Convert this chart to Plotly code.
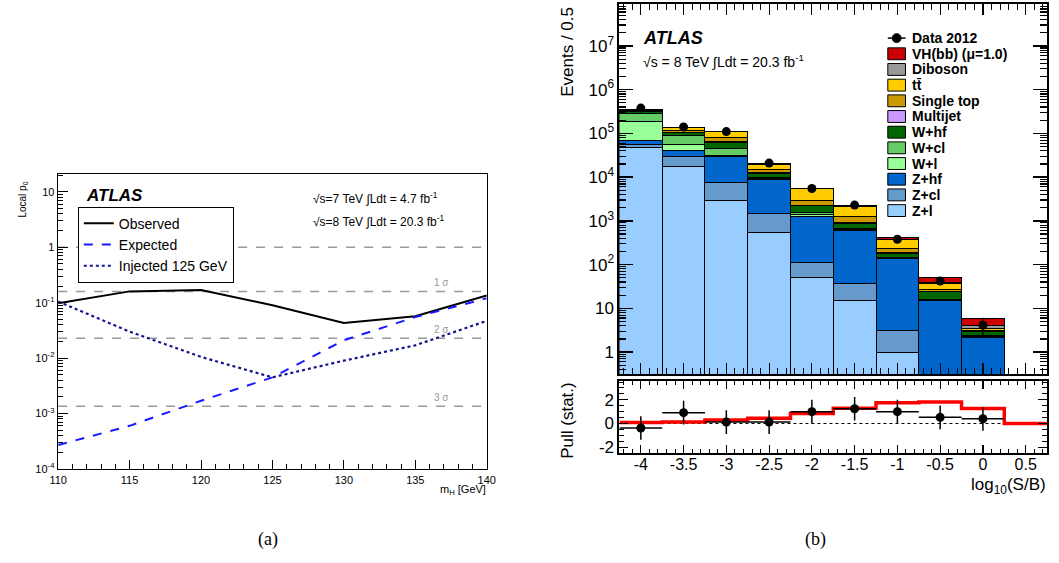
import math
import plotly.graph_objects as go

# ---------------- Panel (a): local p0 vs mH ----------------
mass = [110, 115, 120, 125, 130, 135, 140]
p0_observed = [0.098, 0.16, 0.17, 0.09, 0.043, 0.057, 0.135]
p0_expected = [2.7e-4, 6.0e-4, 1.7e-3, 4.5e-3, 0.021, 0.055, 0.12]
p0_injected = [0.105, 0.030, 0.0105, 0.0045, 0.0090, 0.017, 0.047]
sigma_levels = [1.0, 0.1587, 0.02275, 0.00135]
sigma_labels = ["", "1 σ", "2 σ", "3 σ"]

# ---------------- Panel (b): log10(S/B) stacked histogram ----------------
bin_centers = [-4.0, -3.5, -3.0, -2.5, -2.0, -1.5, -1.0, -0.5, 0.0]
z_l = [4.8e4, 1.77e4, 3.0e3, 530, 50, 15, 1.0, 0, 0]
z_cl = [9e3, 1.2e4, 4.4e3, 970, 60, 22, 2.1, 0, 0]
z_hf = [1.3e4, 1.2e4, 2.16e4, 7.3e3, 1130, 580, 132, 14.8, 2.2]
w_l = [1.2e5, 1.5e4, 3e3, 300, 130, 20, 5, 0.5, 0.05]
w_cl = [9e4, 3.5e4, 1.4e4, 900, 210, 40, 8, 1.0, 0.1]
w_hf = [4e4, 1.3e4, 1.6e4, 2.4e3, 620, 210, 34, 8, 0.55]
multijet = [1e3, 2e3, 2e3, 300, 50, 10, 3, 0.2, 0.0]
single_top = [2e4, 7e3, 1.6e4, 2.1e3, 750, 340, 45, 3, 0.3]
ttbar = [1.5e4, 2.4e4, 2.8e4, 5e3, 2.4e3, 950, 145, 10, 0.3]
diboson = [2e3, 1.5e3, 2e3, 500, 100, 40, 10, 2, 0.5]
vh_bb = [36, 44, 60, 50, 40, 40, 30, 12, 1.8]
data_2012 = [3.8e5, 1.4e5, 1.1e5, 2.1e4, 5.5e3, 2.3e3, 380, 42, 4.1]
data_err = [620, 370, 330, 145, 74, 48, 19, 6.5, 2.0]

pull_values = [-0.38, 0.92, 0.12, 0.12, 1.0, 1.25, 1.0, 0.52, 0.40]
pull_err = [1, 1, 1, 1, 1, 1, 1, 1, 1]
bin_half_width = [0.25] * 9
signal_edges = [-4.25, -3.75, -3.25, -2.75, -2.25, -1.75, -1.25, -0.75, -0.25, 0.25, 0.75]
signal_pull = [0.08, 0.13, 0.30, 0.45, 0.85, 1.30, 1.75, 1.82, 1.27, 0.0]

xb_ticks = [-4, -3.5, -3, -2.5, -2, -1.5, -1, -0.5, 0, 0.5]

components = [
    ("Z+l", z_l, "#99ccff"),
    ("Z+cl", z_cl, "#6699cc"),
    ("Z+hf", z_hf, "#0066cc"),
    ("W+l", w_l, "#99ff99"),
    ("W+cl", w_cl, "#66cc66"),
    ("W+hf", w_hf, "#006600"),
    ("Multijet", multijet, "#cc99ff"),
    ("Single top", single_top, "#cc9900"),
    ("tt\u0304", ttbar, "#ffcc00"),
    ("Diboson", diboson, "#999999"),
    ("VH(bb) (\u03bc=1.0)", vh_bb, "#cc0000"),
]

W, H = 1059, 563


def fx(px):
    return px / W


def fy(py):
    return 1 - py / H


FONT = "Liberation Sans, Arial, Helvetica, sans-serif"
SERIF = "Liberation Serif, Times New Roman, serif"

fig = go.Figure()

# ---- panel (a) traces
for lev in sigma_levels:
    fig.add_trace(go.Scatter(x=[mass[0], mass[-1]], y=[lev, lev], mode="lines",
                             line=dict(color="#999999", width=1.5, dash="dash"),
                             showlegend=False, hoverinfo="skip", xaxis="x", yaxis="y"))
fig.add_trace(go.Scatter(x=mass, y=p0_observed, mode="lines", name="Observed",
                         line=dict(color="black", width=2), xaxis="x", yaxis="y", legend="legend"))
fig.add_trace(go.Scatter(x=mass, y=p0_expected, mode="lines", name="Expected",
                         line=dict(color="#1a1aff", width=2, dash="dash"), xaxis="x", yaxis="y", legend="legend"))
fig.add_trace(go.Scatter(x=mass, y=p0_injected, mode="lines", name="Injected 125 GeV",
                         line=dict(color="#14148c", width=2.2, dash="dot"), xaxis="x", yaxis="y", legend="legend"))

# ---- panel (b) stacked histogram
for name, vals, col in components:
    fig.add_trace(go.Bar(x=bin_centers, y=vals, width=0.5, name=name,
                         marker=dict(color=col, line=dict(color="black", width=1)),
                         showlegend=False, xaxis="x2", yaxis="y2"))
fig.add_trace(go.Scatter(x=bin_centers, y=data_2012, mode="markers", name="Data 2012",
                         marker=dict(color="black", size=9),
                         error_y=dict(type="data", array=data_err, color="black", thickness=1.5, width=0),
                         showlegend=False, xaxis="x2", yaxis="y2"))

# ---- pull panel
fig.add_trace(go.Scatter(x=[signal_edges[0], signal_edges[-1]], y=[0, 0], mode="lines",
                         line=dict(color="black", width=1.2, dash="dot"),
                         showlegend=False, hoverinfo="skip", xaxis="x3", yaxis="y3"))
fig.add_trace(go.Scatter(x=signal_edges, y=signal_pull + [signal_pull[-1]], mode="lines",
                         line=dict(color="#ff0000", width=3.5, shape="hv"),
                         showlegend=False, xaxis="x3", yaxis="y3"))
fig.add_trace(go.Scatter(x=bin_centers, y=pull_values, mode="markers",
                         marker=dict(color="black", size=9),
                         error_y=dict(type="data", array=pull_err, color="black", thickness=1.5, width=0),
                         error_x=dict(type="data", array=bin_half_width, color="black", thickness=1.5, width=0),
                         showlegend=False, xaxis="x3", yaxis="y3"))


def log_minor(lo, hi):
    return [m * 10.0 ** e for e in range(lo, hi) for m in range(2, 10)]


def sup(e):
    if e == 0:
        return "1"
    if e == 1:
        return "10"
    return "10<sup>%d</sup>" % e


axis_common = dict(showgrid=False, zeroline=False, showline=True, linecolor="black",
                   ticks="inside", tickcolor="black")

left_y_exps = [-4, -3, -2, -1, 0, 1]
right_y_exps = [0, 1, 2, 3, 4, 5, 6, 7]

fig.update_layout(
    width=W, height=H, margin=dict(l=0, r=0, t=0, b=0),
    paper_bgcolor="white", plot_bgcolor="white",
    font=dict(family=FONT, color="black"),
    barmode="stack", bargap=0,
    xaxis=dict(domain=[fx(50), fx(486)], range=[110, 140], anchor="y",
               tick0=110, dtick=5, ticklen=9, tickwidth=1, linewidth=1.5, mirror=True,
               tickfont=dict(size=11),
               minor=dict(dtick=1, ticklen=5, ticks="inside", tickcolor="black", tickwidth=1),
               **axis_common),
    yaxis=dict(domain=[fy(474), fy(176)], type="log", range=[-4, 1.32], anchor="x",
               tickmode="array", tickvals=[10.0 ** e for e in left_y_exps],
               ticktext=[sup(e) if e >= 0 else "10<sup>%d</sup>" % e for e in left_y_exps],
               ticklen=10, tickwidth=1, linewidth=1.5, mirror=True, tickfont=dict(size=11),
               minor=dict(tickvals=log_minor(-4, 2), ticklen=5, ticks="inside", tickcolor="black", tickwidth=1),
               **axis_common),
    xaxis2=dict(domain=[fx(621), fx(1056)], range=[-4.25, 0.75], anchor="y2",
                tick0=-4, dtick=0.5, ticklen=11, tickwidth=1.2, linewidth=2, mirror="ticks",
                showticklabels=False,
                minor=dict(dtick=0.1, ticklen=6, ticks="inside", tickcolor="black", tickwidth=1),
                **axis_common),
    yaxis2=dict(domain=[fy(378), fy(4)], type="log", range=[-0.5, 7.96], anchor="x2",
                tickmode="array", tickvals=[10.0 ** e for e in right_y_exps],
                ticktext=[sup(e) for e in right_y_exps],
                ticklen=14, tickwidth=1.5, linewidth=2, mirror="ticks", tickfont=dict(size=17),
                minor=dict(tickvals=log_minor(-1, 8), ticklen=7, ticks="inside", tickcolor="black", tickwidth=1.2),
                **axis_common),
    xaxis3=dict(domain=[fx(621), fx(1056)], range=[-4.25, 0.75], anchor="y3",
                tickmode="array", tickvals=xb_ticks, ticktext=["%g" % v for v in xb_ticks],
                ticklen=8, tickwidth=1.2, linewidth=2, mirror="ticks", tickfont=dict(size=16),
                ticklabelstandoff=-4,
                minor=dict(dtick=0.1, ticklen=4, ticks="inside", tickcolor="black", tickwidth=1),
                **axis_common),
    yaxis3=dict(domain=[fy(458), fy(385)], range=[-2.5, 3.6], anchor="x3",
                tickmode="array", tickvals=[-2, 0, 2], ticktext=["-2", "0", "2"],
                ticklen=9, tickwidth=1.2, linewidth=2, mirror="ticks", tickfont=dict(size=17),
                minor=dict(dtick=0.5, ticklen=5, ticks="inside", tickcolor="black", tickwidth=1),
                **axis_common),
    legend=dict(x=fx(70), y=fy(209), xanchor="left", yanchor="top", traceorder="normal",
                bordercolor="black", borderwidth=1, bgcolor="white",
                font=dict(size=14, family=FONT), itemwidth=30, tracegroupgap=0),
)

annotations = []
shapes = []


def ann(text, x, y, size, xanchor="left", angle=0, color="black", family=FONT):
    annotations.append(dict(text=text, x=fx(x), y=fy(y), xref="paper", yref="paper",
                            xanchor=xanchor, yanchor="middle", showarrow=False,
                            textangle=angle, font=dict(size=size, color=color, family=family)))


ann("<b><i>ATLAS</i></b>", 76, 198, 17)
ann("√s=7 TeV ∫Ldt = 4.7 fb<sup>-1</sup>", 307, 200, 12)
ann("√s=8 TeV ∫Ldt = 20.3 fb<sup>-1</sup>", 307, 223, 12)
ann("Local p<sub>0</sub>", 14, 202, 10, xanchor="center", angle=-90)
ann("m<sub>H</sub> [GeV]", 487, 495, 11, xanchor="right")
ann("<b><i>ATLAS</i></b>", 643, 38, 18)
ann("√s = 8 TeV ∫Ldt = 20.3 fb<sup>-1</sup>", 643, 62, 14)
ann("Events / 0.5", 568, 52, 17, xanchor="center", angle=-90)
ann("Pull (stat.)", 568, 425, 17, xanchor="center", angle=-90)
ann("log<sub>10</sub>(S/B)", 1057, 491, 17, xanchor="right")
ann("(a)", 263, 545, 18, xanchor="center", family=SERIF)
ann("(b)", 820, 545, 18, xanchor="center", family=SERIF)

for lev, lab in zip(sigma_levels, sigma_labels):
    if lab:
        annotations.append(dict(text=lab, x=136.8, y=math.log10(lev), xref="x", yref="y",
                                yshift=9, showarrow=False, font=dict(size=10, color="#999999", family=FONT)))

# ---- legend of panel (b), drawn as a ROOT-style compact list
leg_x0, leg_x1, leg_text_x = 894, 912, 917
leg_y0, leg_dy = 38.5, 15.85
entries = [("Data 2012", None)] + [(name, col) for name, _, col in reversed(components)]
for i, (name, col) in enumerate(entries):
    yc = leg_y0 + i * leg_dy
    if col is None:
        shapes.append(dict(type="line", xref="paper", yref="paper",
                           x0=fx(leg_x0), x1=fx(leg_x1), y0=fy(yc), y1=fy(yc),
                           line=dict(color="black", width=1.5)))
        xm = (leg_x0 + leg_x1) / 2
        shapes.append(dict(type="circle", xref="paper", yref="paper",
                           x0=fx(xm - 4.5), x1=fx(xm + 4.5), y0=fy(yc + 4.5), y1=fy(yc - 4.5),
                           fillcolor="black", line=dict(color="black", width=1)))
    else:
        shapes.append(dict(type="rect", xref="paper", yref="paper",
                           x0=fx(leg_x0), x1=fx(leg_x1), y0=fy(yc + 6), y1=fy(yc - 6),
                           fillcolor=col, line=dict(color="black", width=1)))
    ann("<b>%s</b>" % name, leg_text_x, yc, 14)

fig.update_layout(annotations=annotations, shapes=shapes)

fig.write_html("out.html", config={"displayModeBar": False, "staticPlot": True},
               post_script="document.body.style.margin='0';document.body.style.overflow='hidden';")
